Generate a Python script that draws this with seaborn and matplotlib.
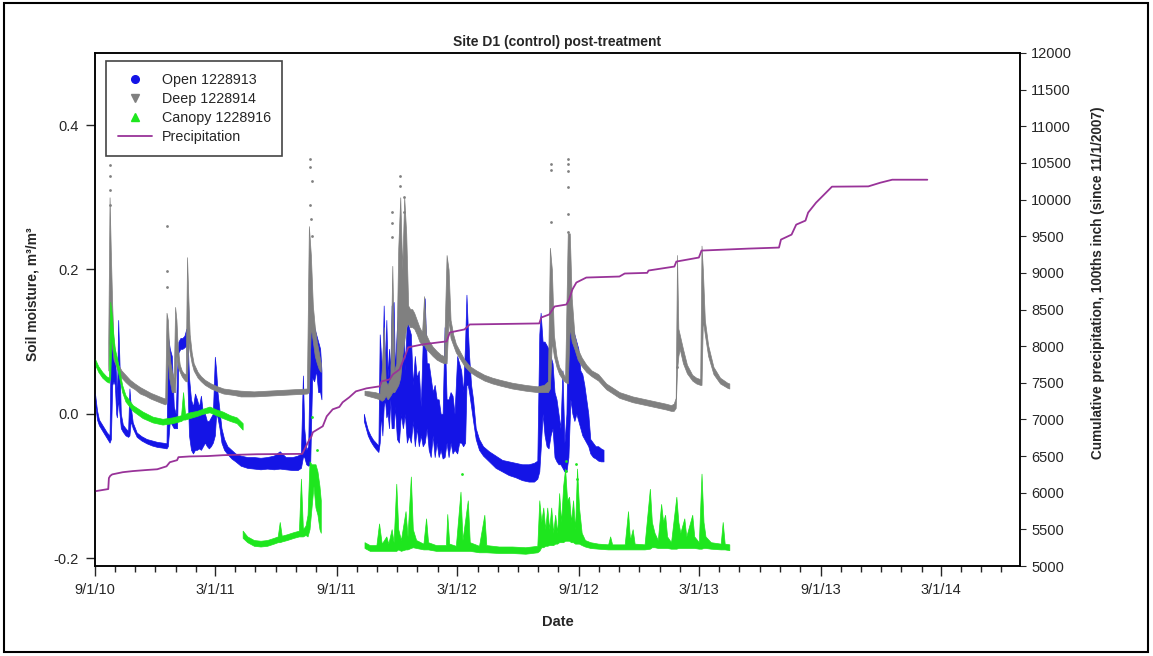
import pandas as pd
import matplotlib
matplotlib.use("Agg")
import matplotlib.pyplot as plt
import matplotlib.dates as mdates
from matplotlib.lines import Line2D
from matplotlib.patches import Rectangle
from matplotlib.ticker import FuncFormatter
import seaborn as sns

# day numbers count from 9/1/2010; soil series are (day, low, high) of the logged dots
START = pd.Timestamp("2010-09-01")

open_a = [
    (0, 0.015, 0.028), (3, -0.008, 0.005), (6, -0.016, -0.008), (10, -0.022, -0.014),
    (14, -0.028, -0.020), (18, -0.034, -0.026), (22, -0.040, -0.030), (24, -0.035, 0.118),
    (26, 0.040, 0.100), (28, 0.045, 0.095), (30, 0.040, 0.080), (32, 0.000, 0.050),
    (33, -0.005, 0.010), (35, 0.020, 0.130), (37, 0.000, 0.070), (39, -0.020, 0.000),
    (42, -0.025, -0.015), (46, -0.030, -0.020), (50, -0.032, -0.024), (52, -0.030, 0.035),
    (54, -0.010, 0.010), (57, -0.020, -0.012), (63, -0.032, -0.026), (70, -0.037, -0.031),
    (78, -0.041, -0.035), (86, -0.044, -0.037), (94, -0.046, -0.039), (102, -0.047, -0.040),
    (108, -0.048, -0.041), (110, -0.045, 0.108), (113, -0.010, 0.090), (116, -0.015, 0.080),
    (119, -0.020, 0.010), (122, -0.020, 0.000), (124, -0.020, 0.060), (126, 0.085, 0.100),
    (129, 0.090, 0.105), (132, 0.090, 0.105), (135, 0.092, 0.108), (138, 0.095, 0.118),
    (140, 0.030, 0.100), (142, -0.030, 0.050), (145, -0.050, 0.020), (148, -0.055, 0.010),
    (151, -0.050, 0.028), (154, -0.050, 0.020), (157, -0.048, 0.010), (160, -0.050, 0.025),
    (163, -0.045, 0.000), (166, -0.040, 0.000), (169, -0.045, -0.010), (172, -0.048, -0.010),
    (175, -0.045, -0.005), (178, -0.040, 0.000), (181, -0.030, 0.079), (183, 0.000, 0.060),
    (185, -0.005, 0.030), (188, -0.020, 0.005), (191, -0.040, -0.020), (195, -0.050, -0.035),
    (200, -0.056, -0.045), (206, -0.062, -0.050), (212, -0.066, -0.055), (220, -0.072, -0.058),
    (230, -0.075, -0.060), (240, -0.076, -0.060), (250, -0.077, -0.061), (260, -0.076, -0.060),
    (270, -0.077, -0.058), (279, -0.076, -0.052), (288, -0.077, -0.060), (298, -0.078, -0.060),
    (306, -0.078, -0.058), (311, -0.075, -0.055), (314, -0.060, 0.053), (316, -0.060, -0.020),
    (319, -0.070, -0.050), (322, -0.072, -0.045), (325, -0.070, 0.120), (328, 0.050, 0.130),
    (331, 0.045, 0.120), (334, 0.060, 0.110), (337, 0.030, 0.100), (340, 0.030, 0.090),
    (342, 0.020, 0.060),
]

open_b = [
    (406, -0.010, 0.000), (409, -0.020, -0.012), (412, -0.030, -0.022), (416, -0.038, -0.030),
    (420, -0.044, -0.036), (424, -0.049, -0.040), (428, -0.053, -0.044), (430, -0.040, 0.110),
    (432, 0.000, 0.080), (434, -0.030, 0.060), (436, 0.010, 0.150), (438, 0.020, 0.060),
    (440, -0.005, 0.130), (442, 0.000, 0.050), (444, -0.020, 0.090), (446, 0.020, 0.060),
    (448, -0.020, 0.150), (451, -0.020, 0.155), (453, 0.010, 0.060), (456, -0.035, 0.120),
    (459, -0.040, 0.155), (462, 0.000, 0.080), (465, -0.020, 0.170), (468, 0.000, 0.060),
    (471, -0.040, 0.130), (474, -0.030, 0.120), (477, -0.040, 0.110), (480, -0.010, 0.040),
    (483, -0.045, 0.080), (486, -0.020, 0.050), (489, -0.045, 0.060), (492, -0.030, 0.010),
    (495, -0.045, 0.100), (498, -0.040, 0.160), (501, -0.020, 0.070), (504, -0.050, 0.070),
    (507, -0.060, 0.050), (510, -0.030, 0.030), (513, -0.060, 0.040), (516, -0.040, 0.020),
    (519, -0.060, 0.020), (522, -0.050, 0.000), (525, -0.062, 0.000), (528, -0.060, 0.120),
    (531, -0.040, 0.020), (534, -0.060, 0.020), (537, -0.040, 0.030), (540, -0.055, 0.025),
    (543, -0.050, 0.000), (547, -0.055, 0.080), (550, -0.040, 0.070), (553, -0.040, 0.060),
    (556, -0.045, 0.030), (559, -0.040, 0.100), (561, 0.040, 0.165), (563, 0.040, 0.120),
    (565, 0.030, 0.080), (568, 0.010, 0.040), (571, -0.010, 0.020), (575, -0.035, -0.020),
    (580, -0.050, -0.035), (586, -0.058, -0.045), (595, -0.066, -0.052), (605, -0.075, -0.058),
    (615, -0.080, -0.064), (625, -0.085, -0.066), (635, -0.088, -0.068), (645, -0.092, -0.070),
    (655, -0.094, -0.070), (663, -0.094, -0.068), (668, -0.090, -0.065), (671, -0.080, 0.110),
    (673, -0.050, 0.140), (676, 0.000, 0.100), (679, -0.030, 0.100), (682, -0.045, 0.095),
    (685, -0.048, 0.090), (688, -0.030, 0.080), (691, -0.020, 0.070), (694, -0.060, 0.030),
    (697, -0.066, 0.020), (700, -0.070, 0.000), (703, -0.070, -0.020), (706, -0.075, 0.060),
    (709, -0.080, -0.040), (712, -0.080, 0.000), (715, -0.060, 0.170), (718, 0.020, 0.140),
    (721, 0.000, 0.120), (724, -0.010, 0.110), (727, 0.000, 0.100), (730, -0.010, 0.090),
    (733, -0.020, 0.060), (736, -0.030, 0.055), (739, -0.035, 0.040), (742, -0.040, 0.020),
    (745, -0.045, 0.000), (748, -0.055, -0.035), (752, -0.060, -0.040), (756, -0.062, -0.045),
    (760, -0.065, -0.045), (764, -0.066, -0.048), (768, -0.066, -0.050),
]

deep_a = [
    (20, 0.060, 0.100), (22, 0.100, 0.300), (24, 0.120, 0.220), (26, 0.090, 0.150),
    (28, 0.075, 0.100), (31, 0.068, 0.080), (35, 0.058, 0.068), (40, 0.050, 0.060),
    (46, 0.044, 0.054), (53, 0.038, 0.047), (60, 0.034, 0.042), (68, 0.028, 0.037),
    (76, 0.025, 0.033), (84, 0.021, 0.029), (92, 0.018, 0.026), (100, 0.015, 0.023),
    (106, 0.013, 0.021), (108, 0.015, 0.140), (110, 0.080, 0.130), (112, 0.050, 0.090),
    (114, 0.040, 0.070), (116, 0.030, 0.060), (119, 0.030, 0.050), (121, 0.030, 0.148),
    (123, 0.080, 0.130), (125, 0.065, 0.090), (128, 0.058, 0.068), (131, 0.052, 0.060),
    (134, 0.048, 0.056), (137, 0.045, 0.055), (139, 0.045, 0.217), (141, 0.100, 0.160),
    (143, 0.085, 0.110), (146, 0.070, 0.085), (149, 0.060, 0.070), (155, 0.050, 0.058),
    (160, 0.045, 0.052), (166, 0.040, 0.047), (175, 0.035, 0.042), (185, 0.031, 0.038),
    (194, 0.028, 0.035), (210, 0.026, 0.033), (220, 0.024, 0.032), (240, 0.024, 0.031),
    (260, 0.025, 0.032), (280, 0.026, 0.033), (300, 0.027, 0.034), (320, 0.028, 0.035),
    (323, 0.030, 0.260), (326, 0.120, 0.220), (329, 0.100, 0.150), (332, 0.080, 0.120),
    (335, 0.070, 0.100), (338, 0.062, 0.085), (341, 0.058, 0.070),
]

deep_b = [
    (407, 0.026, 0.032), (415, 0.024, 0.031), (423, 0.022, 0.030), (430, 0.020, 0.028),
    (433, 0.018, 0.060), (436, 0.020, 0.120), (439, 0.025, 0.045), (442, 0.020, 0.040),
    (446, 0.025, 0.050), (449, 0.030, 0.205), (452, 0.030, 0.060), (455, 0.035, 0.070),
    (458, 0.040, 0.230), (461, 0.050, 0.300), (464, 0.080, 0.200), (467, 0.100, 0.300),
    (470, 0.120, 0.250), (473, 0.125, 0.150), (476, 0.120, 0.145), (479, 0.120, 0.145),
    (482, 0.118, 0.140), (486, 0.110, 0.130), (490, 0.100, 0.120), (494, 0.095, 0.113),
    (497, 0.095, 0.163), (500, 0.090, 0.110), (505, 0.085, 0.100), (510, 0.080, 0.093),
    (516, 0.075, 0.087), (522, 0.072, 0.082), (527, 0.070, 0.080), (531, 0.070, 0.220),
    (534, 0.130, 0.200), (537, 0.105, 0.130), (541, 0.095, 0.110), (545, 0.085, 0.097),
    (552, 0.075, 0.085), (558, 0.066, 0.075), (566, 0.058, 0.066), (576, 0.052, 0.060),
    (588, 0.046, 0.054), (600, 0.042, 0.050), (612, 0.039, 0.047), (630, 0.035, 0.043),
    (650, 0.032, 0.040), (668, 0.030, 0.038), (678, 0.030, 0.040), (684, 0.030, 0.045),
    (687, 0.035, 0.230), (690, 0.100, 0.200), (693, 0.080, 0.110), (697, 0.065, 0.080),
    (701, 0.055, 0.065), (706, 0.048, 0.058), (710, 0.044, 0.050), (714, 0.042, 0.250),
    (717, 0.120, 0.250), (720, 0.100, 0.160), (724, 0.090, 0.110), (729, 0.075, 0.090),
    (735, 0.066, 0.078), (742, 0.058, 0.068), (750, 0.052, 0.060), (760, 0.046, 0.055),
    (772, 0.034, 0.042), (792, 0.022, 0.030), (812, 0.016, 0.024), (837, 0.011, 0.019),
    (862, 0.006, 0.014), (870, 0.004, 0.012), (874, 0.004, 0.014), (877, 0.008, 0.022),
    (879, 0.060, 0.220), (881, 0.080, 0.118), (883, 0.090, 0.110), (888, 0.070, 0.090),
    (894, 0.056, 0.068), (902, 0.046, 0.054), (908, 0.042, 0.050), (914, 0.040, 0.048),
    (916, 0.040, 0.233), (918, 0.130, 0.200), (921, 0.110, 0.130), (926, 0.080, 0.095),
    (934, 0.055, 0.065), (944, 0.042, 0.050), (955, 0.036, 0.043), (958, 0.035, 0.042),
]

# isolated high readings of the deep sensor (day, value)
deep_dots = [
    (23, 0.345), (23, 0.330), (23, 0.310), (23, 0.290), (108, 0.260), (108, 0.198),
    (108, 0.175), (325, 0.353), (325, 0.342), (325, 0.290), (327, 0.323), (326, 0.270),
    (327, 0.247), (449, 0.280), (449, 0.265), (449, 0.245), (461, 0.330), (461, 0.315),
    (467, 0.300), (466, 0.280), (688, 0.346), (688, 0.338), (688, 0.266), (715, 0.353),
    (715, 0.346), (715, 0.337), (715, 0.314), (715, 0.277), (715, 0.252), (879, 0.065),
]

canopy_a = [
    (0, 0.068, 0.076), (5, 0.058, 0.066), (11, 0.050, 0.058), (17, 0.045, 0.052),
    (21, 0.043, 0.050), (23, 0.050, 0.155), (25, 0.110, 0.140), (27, 0.090, 0.115),
    (30, 0.075, 0.090), (33, 0.065, 0.078), (37, 0.048, 0.060), (41, 0.030, 0.040),
    (46, 0.017, 0.026), (57, 0.004, 0.012), (72, -0.006, 0.003), (87, -0.012, -0.004),
    (102, -0.015, -0.007), (117, -0.013, -0.005), (130, -0.010, -0.002), (133, -0.008, 0.030),
    (136, -0.008, 0.000), (143, -0.006, 0.002), (154, -0.003, 0.004), (163, 0.000, 0.007),
    (173, 0.002, 0.010), (183, -0.002, 0.006), (193, -0.006, 0.003), (204, -0.010, -0.002),
    (214, -0.013, -0.005), (223, -0.022, -0.013),
]

canopy_b = [
    (223, -0.172, -0.162), (230, -0.178, -0.170), (240, -0.183, -0.175), (250, -0.184, -0.176),
    (260, -0.183, -0.175), (270, -0.180, -0.172), (276, -0.178, -0.170), (279, -0.178, -0.150),
    (282, -0.177, -0.169), (290, -0.175, -0.167), (300, -0.172, -0.164), (308, -0.170, -0.162),
    (311, -0.170, -0.090), (314, -0.170, -0.160), (318, -0.168, -0.155), (321, -0.170, -0.140),
    (324, -0.160, -0.066), (327, -0.130, -0.070), (330, -0.100, -0.070), (333, -0.130, -0.070),
    (336, -0.140, -0.080), (339, -0.160, -0.100), (341, -0.165, -0.120),
]

canopy_c = [
    (407, -0.186, -0.178), (415, -0.190, -0.182), (425, -0.190, -0.182), (429, -0.190, -0.152),
    (433, -0.190, -0.180), (440, -0.190, -0.170), (443, -0.190, -0.180), (448, -0.190, -0.160),
    (451, -0.190, -0.178), (455, -0.190, -0.097), (458, -0.188, -0.160), (462, -0.190, -0.175),
    (469, -0.188, -0.135), (472, -0.188, -0.170), (477, -0.186, -0.087), (480, -0.185, -0.160),
    (485, -0.186, -0.175), (496, -0.188, -0.180), (500, -0.188, -0.145), (503, -0.188, -0.178),
    (515, -0.190, -0.182), (530, -0.190, -0.182), (532, -0.190, -0.139), (535, -0.190, -0.180),
    (545, -0.190, -0.183), (552, -0.190, -0.108), (555, -0.190, -0.175), (563, -0.190, -0.120),
    (566, -0.190, -0.178), (580, -0.192, -0.183), (588, -0.192, -0.140), (591, -0.192, -0.182),
    (610, -0.193, -0.184), (630, -0.193, -0.184), (650, -0.194, -0.185), (668, -0.192, -0.183),
    (671, -0.190, -0.120), (674, -0.185, -0.150), (677, -0.185, -0.130), (680, -0.183, -0.160),
    (683, -0.183, -0.130), (686, -0.182, -0.160), (689, -0.182, -0.130), (692, -0.182, -0.165),
    (695, -0.180, -0.140), (698, -0.180, -0.165), (701, -0.178, -0.110), (704, -0.178, -0.150),
    (707, -0.178, -0.100), (710, -0.176, -0.076), (713, -0.176, -0.120), (716, -0.176, -0.115),
    (719, -0.178, -0.150), (722, -0.178, -0.120), (725, -0.180, -0.160), (728, -0.180, -0.076),
    (731, -0.180, -0.130), (735, -0.182, -0.165), (740, -0.184, -0.175), (748, -0.186, -0.178),
    (760, -0.187, -0.180), (775, -0.188, -0.181), (778, -0.188, -0.170), (781, -0.188, -0.181),
    (800, -0.188, -0.181), (805, -0.188, -0.135), (808, -0.188, -0.175), (812, -0.188, -0.160),
    (815, -0.188, -0.180), (830, -0.188, -0.181), (838, -0.187, -0.104), (841, -0.185, -0.150),
    (845, -0.185, -0.165), (850, -0.186, -0.175), (855, -0.186, -0.125), (858, -0.186, -0.150),
    (861, -0.186, -0.140), (864, -0.186, -0.170), (870, -0.187, -0.178), (878, -0.187, -0.115),
    (881, -0.186, -0.150), (884, -0.186, -0.165), (890, -0.186, -0.145), (893, -0.186, -0.170),
    (902, -0.186, -0.140), (905, -0.186, -0.170), (912, -0.187, -0.178), (916, -0.187, -0.083),
    (919, -0.186, -0.150), (922, -0.186, -0.170), (930, -0.187, -0.178), (945, -0.188, -0.180),
    (948, -0.188, -0.150), (951, -0.188, -0.180), (958, -0.189, -0.181),
]

canopy_dots = [
    (327, -0.004), (335, -0.050), (555, -0.083), (711, -0.066), (712, -0.080),
    (727, -0.070), (728, -0.090),
]

# cumulative precipitation, 100ths inch since 11/1/2007 (day, total)
precip = [
    (0, 6020), (20, 6050), (21, 6200), (23, 6230), (26, 6250), (42, 6280), (57, 6295),
    (78, 6310), (94, 6320), (108, 6360), (113, 6416), (124, 6444), (126, 6485), (143, 6495),
    (170, 6500), (193, 6512), (245, 6525), (313, 6530), (318, 6621), (324, 6730), (327, 6770),
    (329, 6825), (344, 6907), (350, 7043), (359, 7138), (369, 7170), (374, 7234), (384, 7302),
    (394, 7383), (410, 7424), (430, 7452), (433, 7520), (445, 7547), (450, 7615), (460, 7683),
    (468, 7860), (473, 7983), (479, 7995), (495, 8024), (531, 8065), (536, 8187), (558, 8228),
    (566, 8296), (671, 8310), (674, 8391), (686, 8432), (694, 8541), (712, 8568), (716, 8637),
    (721, 8773), (727, 8868), (742, 8936), (792, 8950), (800, 8991), (834, 9000), (836, 9032),
    (875, 9086), (878, 9154), (912, 9209), (916, 9304), (987, 9331), (1033, 9345),
    (1036, 9454), (1052, 9522), (1059, 9658), (1073, 9713), (1077, 9822), (1089, 9958),
    (1104, 10094), (1113, 10176), (1168, 10180), (1186, 10230), (1204, 10271), (1257, 10271),
]

labels = ["Open 1228913", "Deep 1228914", "Canopy 1228916", "Precipitation"]

BLUE = "#1414e6"
GRAY = "#808080"
GREEN = "#1ee61e"
PURPLE = "#993399"


def frame(rows, cols):
    df = pd.DataFrame(rows, columns=cols)
    df["date"] = START + pd.to_timedelta(df["day"], unit="D")
    return df


sns.set_style("ticks")
plt.rcParams["font.family"] = ["Liberation Sans", "DejaVu Sans"]
plt.rcParams["axes.unicode_minus"] = False

fig = plt.figure(figsize=(11.53, 6.56), dpi=100)
ax = fig.add_axes([95 / 1153, 1 - 566 / 656, 925 / 1153, 513 / 656])
ax2 = ax.twinx()

# soil moisture dot clouds, drawn as low/high envelopes
for segs, color, z in [([open_a, open_b], BLUE, 3), ([deep_a, deep_b], GRAY, 4),
                       ([canopy_a, canopy_b, canopy_c], GREEN, 5)]:
    for rows in segs:
        d = frame(rows, ["day", "lo", "hi"])
        ax.fill_between(d["date"].to_numpy(), d["lo"], d["hi"], color=color,
                        linewidth=0.5, zorder=z)

dd = frame(deep_dots, ["day", "value"])
sns.scatterplot(data=dd, x="date", y="value", color=GRAY, s=4, linewidth=0, ax=ax, zorder=4)
cd = frame(canopy_dots, ["day", "value"])
sns.scatterplot(data=cd, x="date", y="value", color=GREEN, s=4, linewidth=0, ax=ax, zorder=5)

pr = frame(precip, ["day", "total"])
sns.lineplot(data=pr, x="date", y="total", color=PURPLE, linewidth=1.3, estimator=None,
             sort=False, ax=ax2)

ax.set_xlim(START, pd.Timestamp("2014-06-29"))
ax.set_ylim(-0.211, 0.5)
ax2.set_ylim(5000, 12000)

ax.xaxis.set_major_locator(mdates.MonthLocator(bymonth=[3, 9]))
ax.xaxis.set_minor_locator(mdates.MonthLocator())
ax.xaxis.set_major_formatter(FuncFormatter(
    lambda v, p: "{0.month}/{0.day}/{0:%y}".format(mdates.num2date(v))))
ax.set_yticks([-0.2, 0.0, 0.2, 0.4])
ax.yaxis.set_major_formatter(FuncFormatter(lambda v, p: f"{v:.1f}"))
ax2.set_yticks(range(5000, 12001, 500))

ax.tick_params(axis="x", which="major", length=7, width=1, pad=5, labelsize=10.5)
ax.tick_params(axis="x", which="minor", length=4.5, width=1)
ax.tick_params(axis="y", length=6.5, width=1, pad=5, labelsize=10.5)
ax2.tick_params(axis="y", length=4.5, width=0.8, pad=3.5, labelsize=10.5)
for a in (ax, ax2):
    for s in a.spines.values():
        s.set_linewidth(1.1)
        s.set_color("black")

ax.set_title("Site D1 (control) post-treatment", fontsize=10, fontweight="bold", pad=5)
ax.set_xlabel("Date", fontsize=10.5, fontweight="bold")
ax.xaxis.label.set_va("center")
ax.xaxis.set_label_coords(0.5, -0.109)
ax.set_ylabel("Soil moisture, m³/m³", fontsize=10, fontweight="bold")
ax.yaxis.label.set_va("center")
ax.yaxis.set_label_coords(-0.068, 0.53)
ax2.set_ylabel("Cumulative precipitation, 100ths inch (since 11/1/2007)", fontsize=9.8,
               fontweight="bold")
ax2.yaxis.label.set_va("center")
ax2.yaxis.set_label_coords(1.0843, 0.552)

handles = [
    Line2D([], [], ls="none", marker="o", color=BLUE, ms=5.5),
    Line2D([], [], ls="none", marker="v", color=GRAY, ms=5.5),
    Line2D([], [], ls="none", marker="^", color=GREEN, ms=5.5),
    Line2D([], [], color=PURPLE, lw=1.3),
]
leg = ax2.legend(handles, labels, loc="upper left", bbox_to_anchor=(0.012, 0.984),
                 borderaxespad=0, fancybox=False, framealpha=1, edgecolor="#444444",
                 fontsize=10.3, handlelength=2.4, handletextpad=0.7, labelspacing=0.36,
                 borderpad=0.8)
leg.get_frame().set_linewidth(1.2)

fig.patches.append(Rectangle((4 / 1153, 4 / 656), 1144 / 1153, 649 / 656,
                             transform=fig.transFigure, fill=False, lw=1.5, ec="black"))

fig.savefig("out.png", dpi=100)
